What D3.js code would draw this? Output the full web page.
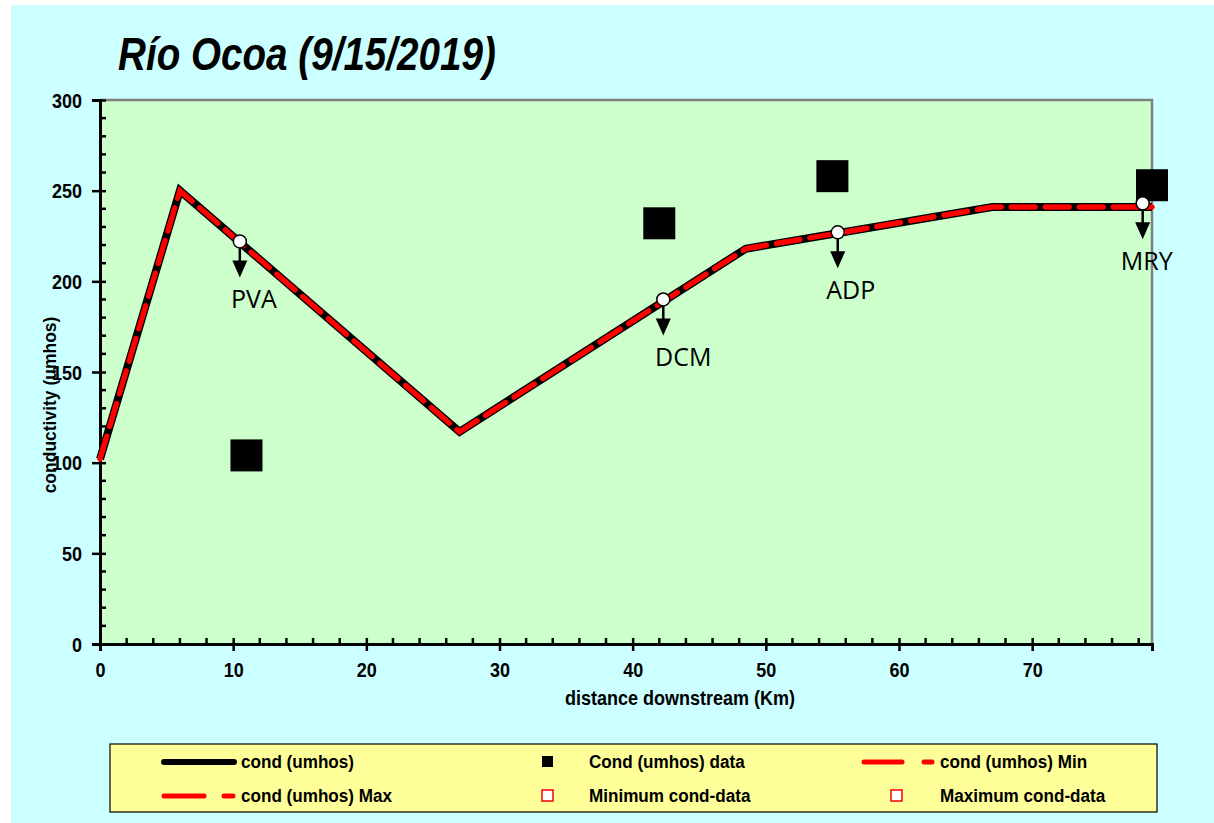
<!DOCTYPE html>
<html><head><meta charset="utf-8">
<script src="https://cdn.jsdelivr.net/npm/d3@7"></script>
<style>html,body{margin:0;padding:0;background:#fff;}svg{display:block;}</style>
</head><body>
<script>
// ---- data ----
const modelDist = [0, 6, 27, 48.5, 67, 79];
const condModel = [102, 250, 117, 218, 241, 241];
const condMin   = [102, 250, 117, 218, 241, 241];
const condMax   = [102, 250, 117, 218, 241, 241];
const dataDist  = [11, 42, 55, 79];
const condData  = [104, 232, 258, 253];
const stationNames = ["PVA", "DCM", "ADP", "MRY"];
const stationDist  = [10.5, 42.3, 55.4, 78.3];
const stationCond  = [222, 190, 227, 243];
const xTicks = [0, 10, 20, 30, 40, 50, 60, 70];
const yTicks = [0, 50, 100, 150, 200, 250, 300];
const legendLabels = ["cond (umhos)", "Cond (umhos) data", "cond (umhos) Min",
                      "cond (umhos) Max", "Minimum cond-data", "Maximum cond-data"];

const W = 1214, H = 823;
const svg = d3.select("body").append("svg").attr("width", W).attr("height", H);
svg.append("rect").attr("x",0).attr("y",0).attr("width",W).attr("height",H).attr("fill","#fff");
svg.append("rect").attr("x",11).attr("y",5).attr("width",W-11).attr("height",H-5).attr("fill","#CCFFFF");

const L = 100, R = 1152, T = 100, B = 644;
const x = d3.scaleLinear().domain([0, 79]).range([L, R]);
const y = d3.scaleLinear().domain([0, 300]).range([B, T]);
const FONT = "'Liberation Sans', Arial, sans-serif";

svg.append("rect").attr("x",L).attr("y",T).attr("width",R-L).attr("height",B-T)
  .attr("fill","#CCFFCC");
svg.append("path").attr("d",`M${L},${T}H${R}V${B}`).attr("fill","none")
  .attr("stroke","#808080").attr("stroke-width",2.5);

// title
svg.append("text").attr("transform","translate(118,70) scale(0.84,1)").text("Río Ocoa (9/15/2019)")
  .attr("font-family",FONT).attr("font-weight","bold")
  .attr("font-style","italic").attr("font-size",46).attr("fill","#000");

// axes
const yAxis = d3.axisLeft(y).tickValues(yTicks).tickSize(8).tickPadding(12);
const gy = svg.append("g").attr("transform",`translate(${L},0)`).call(yAxis);
const xAxis = d3.axisBottom(x).tickValues(xTicks).tickSize(7).tickPadding(12);
const gx = svg.append("g").attr("transform",`translate(0,${B})`).call(xAxis);
[gx, gy].forEach(g => {
  g.select(".domain").attr("stroke","#000").attr("stroke-width",3);
  g.selectAll(".tick line").attr("stroke","#000").attr("stroke-width",2.5);
  g.selectAll(".tick text").attr("font-family",FONT).attr("font-weight","bold")
    .attr("font-size",20).attr("fill","#000");
});
gy.selectAll(".tick text").attr("transform","scale(0.9,1)").attr("dy","0.36em");
gx.selectAll(".tick text").attr("transform","scale(0.9,1)");
gx.selectAll(".tick text").each(function(){
  const t = d3.select(this.parentNode).attr("transform");
});
gy.selectAll(".tick line").attr("x1",6);
gx.selectAll(".tick line").attr("y1",-6);
// minor ticks
const yMinor = d3.range(0, 301, 10).filter(v => v % 50 !== 0);
svg.append("g").selectAll("line").data(yMinor).join("line")
  .attr("x1",L).attr("x2",L+6).attr("y1",d=>y(d)).attr("y2",d=>y(d))
  .attr("stroke","#000").attr("stroke-width",2.5);
const xMinor = d3.range(0, 79, 2).filter(v => v % 10 !== 0);
svg.append("g").selectAll("line").data(xMinor).join("line")
  .attr("x1",d=>x(d)).attr("x2",d=>x(d)).attr("y1",B).attr("y2",B-6)
  .attr("stroke","#000").attr("stroke-width",2.5);

// axis titles
svg.append("text").attr("transform","translate(680,705) scale(0.9,1)").attr("text-anchor","middle")
  .text("distance downstream (Km)").attr("font-family",FONT).attr("font-weight","bold")
  .attr("font-size",20);
svg.append("text").attr("transform","translate(56,405) rotate(-90) scale(0.92,1)").attr("text-anchor","middle")
  .text("conductivity (umhos)").attr("font-family",FONT).attr("font-weight","bold")
  .attr("font-size",19);

// lines
const line = d3.line().x(d=>x(d[0])).y(d=>y(d[1]));
const ptsModel = modelDist.map((d,i)=>[d,condModel[i]]);
svg.append("path").attr("d",line(ptsModel)).attr("fill","none").attr("stroke","#000")
  .attr("stroke-width",8).attr("stroke-linejoin","miter");
svg.append("path").attr("d",line(modelDist.map((d,i)=>[d,condMin[i]]))).attr("fill","none")
  .attr("stroke","#f00").attr("stroke-width",5).attr("stroke-dasharray","24,10").attr("stroke-linecap","round");
svg.append("path").attr("d",line(modelDist.map((d,i)=>[d,condMax[i]]))).attr("fill","none")
  .attr("stroke","#f00").attr("stroke-width",5).attr("stroke-dasharray","24,10").attr("stroke-linecap","round");

// data squares
const S = 32;
svg.append("g").selectAll("rect").data(dataDist.map((d,i)=>[d,condData[i]])).join("rect")
  .attr("x",d=>x(d[0])-S/2).attr("y",d=>y(d[1])-S/2).attr("width",S).attr("height",S)
  .attr("fill","#000");

// station annotations
const labelDx = [14, 20, 13, 4];
stationNames.forEach((nm,i)=>{
  const cx = x(stationDist[i]), cy = y(stationCond[i]);
  const g = svg.append("g");
  g.append("line").attr("x1",cx).attr("x2",cx).attr("y1",cy).attr("y2",cy+22)
    .attr("stroke","#000").attr("stroke-width",2.5);
  g.append("path").attr("d",`M${cx-7.5},${cy+19}L${cx+7.5},${cy+19}L${cx},${cy+36}Z`).attr("fill","#000");
  g.append("circle").attr("cx",cx).attr("cy",cy).attr("r",6.5).attr("fill","#fff")
    .attr("stroke","#000").attr("stroke-width",1.5);
  g.append("text").attr("x",cx+labelDx[i]).attr("y",cy+67).attr("text-anchor","middle")
    .text(nm).attr("font-family","'Open Sans', sans-serif").attr("font-size",25).attr("fill","#000");
});

// legend
const lg = svg.append("g");
lg.append("rect").attr("x",110).attr("y",744).attr("width",1047).attr("height",68)
  .attr("fill","#FFFF99").attr("stroke","#000").attr("stroke-width",1.2);
const rowY = [762, 796];
const lgText = (tx, ty, s) => lg.append("text").attr("transform",`translate(${tx},${ty+6}) scale(0.9,1)`).text(s)
  .attr("font-family",FONT).attr("font-weight","bold").attr("font-size",19);
// col1 row1: black line
lg.append("line").attr("x1",164).attr("x2",234).attr("y1",rowY[0]).attr("y2",rowY[0])
  .attr("stroke","#000").attr("stroke-width",6).attr("stroke-linecap","round");
lgText(241, rowY[0], legendLabels[0]);
// col2 row1: black square
lg.append("rect").attr("x",542).attr("y",rowY[0]-6).attr("width",11).attr("height",11).attr("fill","#000");
lgText(589, rowY[0], legendLabels[1]);
// col3 row1: red dashed
lg.append("line").attr("x1",864).attr("x2",902).attr("y1",rowY[0]).attr("y2",rowY[0])
  .attr("stroke","#f00").attr("stroke-width",5).attr("stroke-linecap","round");
lg.append("line").attr("x1",924).attr("x2",932).attr("y1",rowY[0]).attr("y2",rowY[0])
  .attr("stroke","#f00").attr("stroke-width",5).attr("stroke-linecap","round");
lgText(940, rowY[0], legendLabels[2]);
// col1 row2: red dashed
lg.append("line").attr("x1",164).attr("x2",204).attr("y1",rowY[1]).attr("y2",rowY[1])
  .attr("stroke","#f00").attr("stroke-width",5).attr("stroke-linecap","round");
lg.append("line").attr("x1",224).attr("x2",233).attr("y1",rowY[1]).attr("y2",rowY[1])
  .attr("stroke","#f00").attr("stroke-width",5).attr("stroke-linecap","round");
lgText(241, rowY[1], legendLabels[3]);
// col2 row2: open red square
lg.append("rect").attr("x",542).attr("y",rowY[1]-6).attr("width",11).attr("height",11)
  .attr("fill","#fff").attr("stroke","#f00").attr("stroke-width",1.5);
lgText(589, rowY[1], legendLabels[4]);
// col3 row2: open red square
lg.append("rect").attr("x",891).attr("y",rowY[1]-6).attr("width",11).attr("height",11)
  .attr("fill","#fff").attr("stroke","#f00").attr("stroke-width",1.5);
lgText(940, rowY[1], legendLabels[5]);
</script>
</body></html>
